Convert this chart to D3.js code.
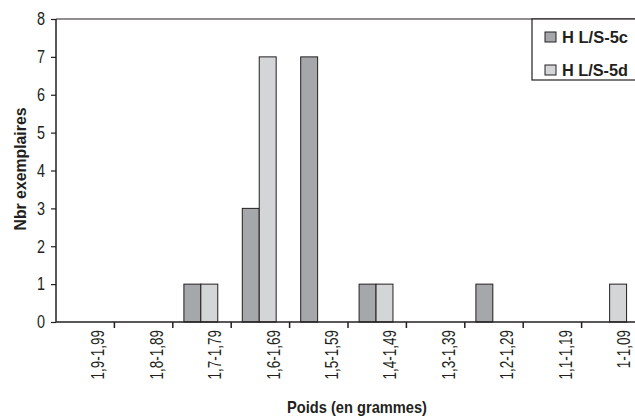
<!DOCTYPE html>
<html><head><meta charset="utf-8">
<script src="https://cdn.jsdelivr.net/npm/d3@7"></script>
<style>
body{margin:0;background:#fff;}
svg{display:block;}
text{font-family:"Liberation Sans",Arial,sans-serif;fill:#231f20;}
</style></head>
<body>
<script>
const categories = ["1,9-1,99","1,8-1,89","1,7-1,79","1,6-1,69","1,5-1,59","1,4-1,49","1,3-1,39","1,2-1,29","1,1-1,19","1-1,09"];
const seriesNames = ["H L/S-5c","H L/S-5d"];
const values5c = [0,0,1,3,7,1,0,1,0,0];
const values5d = [0,0,1,7,0,1,0,0,0,1];
const yTicks = [0,1,2,3,4,5,6,7,8];
const colors = ["#a6a7aa","#d4d5d7"];

const W = 635, H = 418;
const mLeft = 56, mRight = 640, mTop = 19, mBottom = 322;
const svg = d3.select("body").append("svg").attr("width", W).attr("height", H);

function condense(sel, factor) {
  sel.each(function() {
    const len = this.getComputedTextLength();
    d3.select(this).attr("textLength", len * factor).attr("lengthAdjust", "spacingAndGlyphs");
  });
}
function fitTo(sel, len) {
  sel.attr("textLength", len).attr("lengthAdjust", "spacingAndGlyphs");
}

const x = d3.scaleBand().domain(categories).range([mLeft, mRight]).padding(0);
const bw = x.bandwidth();
const x1 = d3.scaleBand().domain(seriesNames).range([bw*0.19, bw*0.19 + 2*bw*0.29]).padding(0);
const y = d3.scaleLinear().domain([0, 8]).range([mBottom, mTop]);

const data = categories.map((c, i) => ({c, vals: [values5c[i], values5d[i]]}));

// top border
svg.append("line").attr("x1", mLeft).attr("x2", W).attr("y1", mTop).attr("y2", mTop)
  .attr("stroke", "#231f20").attr("stroke-width", 1.2);

// bars
const g = svg.append("g");
data.forEach(d => {
  d.vals.forEach((v, j) => {
    if (v <= 0) return;
    g.append("rect")
      .attr("x", x(d.c) + x1(seriesNames[j]))
      .attr("y", y(v))
      .attr("width", x1.bandwidth())
      .attr("height", y(0) - y(v))
      .attr("fill", colors[j])
      .attr("stroke", "#231f20").attr("stroke-width", 1);
  });
});

// y axis
const yAxis = d3.axisLeft(y).tickValues(yTicks).tickSize(5).tickPadding(6).tickFormat(d3.format("d"));
const ya = svg.append("g").attr("transform", `translate(${mLeft},0)`).call(yAxis);
ya.select(".domain").attr("d", `M0,${mTop}V${mBottom}`).attr("stroke", "#231f20").attr("stroke-width", 1.5);
ya.selectAll(".tick line").attr("stroke", "#231f20").attr("stroke-width", 1.2);
ya.selectAll(".tick text").attr("font-size", 18).attr("font-family", "Liberation Sans, Arial, sans-serif").attr("fill", "#231f20");
condense(ya.selectAll(".tick text"), 0.8);

// x axis
const boundaries = categories.map(c => x(c) + bw);
const xa = svg.append("g").attr("transform", `translate(0,${mBottom})`);
xa.append("line").attr("x1", mLeft).attr("x2", W).attr("y1", 0).attr("y2", 0)
  .attr("stroke", "#231f20").attr("stroke-width", 1.5);
boundaries.forEach(b => {
  if (b < W) xa.append("line").attr("x1", b).attr("x2", b).attr("y1", 0).attr("y2", 6)
    .attr("stroke", "#231f20").attr("stroke-width", 1.5);
});
const xl = xa.selectAll("text.xl").data(categories).enter().append("text")
  .attr("class", "xl")
  .attr("transform", c => `translate(${x(c) + bw - 10},8) rotate(-90)`)
  .attr("text-anchor", "end")
  .attr("font-size", 18)
  .text(c => c);
condense(xl, 0.75);

// axis titles
const yt = svg.append("text")
  .attr("transform", `translate(26,169) rotate(-90)`)
  .attr("text-anchor", "middle")
  .attr("font-size", 17).attr("font-weight", "bold")
  .text("Nbr exemplaires");
fitTo(yt, 123);
const xt = svg.append("text")
  .attr("x", 357).attr("y", 413)
  .attr("text-anchor", "middle")
  .attr("font-size", 17).attr("font-weight", "bold")
  .text("Poids (en grammes)");
fitTo(xt, 140);

// legend
const lg = svg.append("g");
lg.append("rect").attr("x", 532).attr("y", mTop).attr("width", 120).attr("height", 61)
  .attr("fill", "#fff").attr("stroke", "#231f20").attr("stroke-width", 1.2);
seriesNames.forEach((s, i) => {
  const cy = 37 + i*33;
  lg.append("rect").attr("x", 545).attr("y", cy - 5).attr("width", 11).attr("height", 10)
    .attr("fill", colors[i]).attr("stroke", "#231f20").attr("stroke-width", 1);
  const t = lg.append("text").attr("x", 562).attr("y", cy + 6)
    .attr("font-size", 16).attr("font-weight", "bold")
    .text(s);
  fitTo(t, 66);
});
</script>
</body></html>
